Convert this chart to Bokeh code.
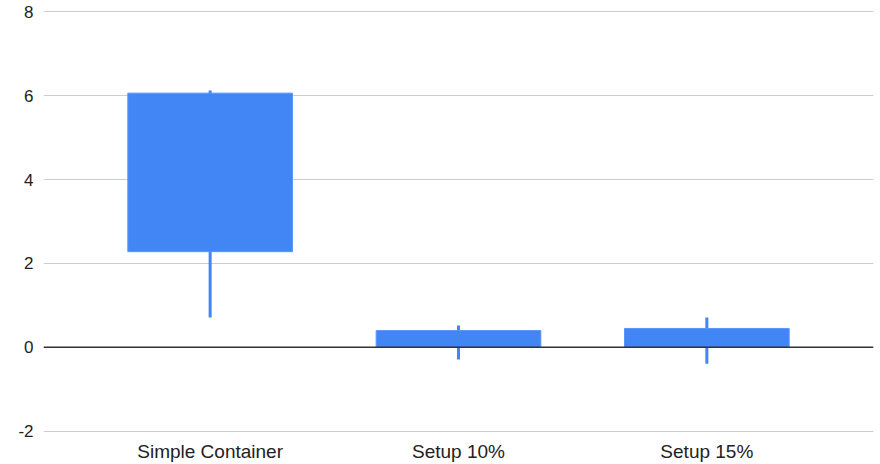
from bokeh.plotting import figure
from bokeh.models import Range1d, FixedTicker, Span
from bokeh.embed import file_html
from bokeh.resources import INLINE

# Candlestick data per setup
categories = ["Simple Container", "Setup 10%", "Setup 15%"]
low_vals = [0.71, -0.29, -0.39]
open_vals = [2.28, 0.0, 0.0]
close_vals = [6.06, 0.40, 0.45]
high_vals = [6.12, 0.52, 0.71]
y_ticks = [-2, 0, 2, 4, 6, 8]

BLUE = "#4285F4"
FONT = "Liberation Sans"

xs = list(range(len(categories)))

p = figure(
    width=880, height=464,
    x_range=Range1d(-0.671, 2.671), y_range=Range1d(-2.03, 8.03),
    output_backend="svg", toolbar_location=None,
    min_border_left=43, min_border_right=7,
    min_border_top=10, min_border_bottom=31,
)
p.outline_line_color = None
p.background_fill_color = "white"
p.border_fill_color = "white"

# grid
p.xgrid.grid_line_color = None
p.ygrid.grid_line_color = "#cccccc"
p.ygrid.grid_line_width = 1
p.yaxis.ticker = FixedTicker(ticks=y_ticks)
p.yaxis.major_label_overrides = {t: str(t) for t in y_ticks}
p.xaxis.ticker = FixedTicker(ticks=xs)
p.xaxis.major_label_overrides = {i: c for i, c in zip(xs, categories)}

for ax in (p.xaxis[0], p.yaxis[0]):
    ax.axis_line_color = None
    ax.major_tick_line_color = None
    ax.minor_tick_line_color = None
    ax.major_tick_out = 0
    ax.major_tick_in = 0
    ax.minor_tick_out = 0
    ax.minor_tick_in = 0
    ax.major_label_text_font = FONT
    ax.major_label_text_color = "#222222"
p.yaxis.major_label_text_font_size = "17px"
p.xaxis.major_label_text_font_size = "19px"
p.yaxis.major_label_standoff = 10
p.xaxis.major_label_standoff = 8

# baseline at zero
p.add_layout(Span(location=0, dimension="width", line_color="#333333", line_width=1.5))

# whiskers and bodies
p.segment(x0=xs, y0=low_vals, x1=xs, y1=high_vals, line_color=BLUE, line_width=3)
p.vbar(x=xs, bottom=open_vals, top=close_vals, width=0.663,
       fill_color=BLUE, line_color="#5a95f6", line_width=1)

open("out.html", "w").write(file_html(p, INLINE))
